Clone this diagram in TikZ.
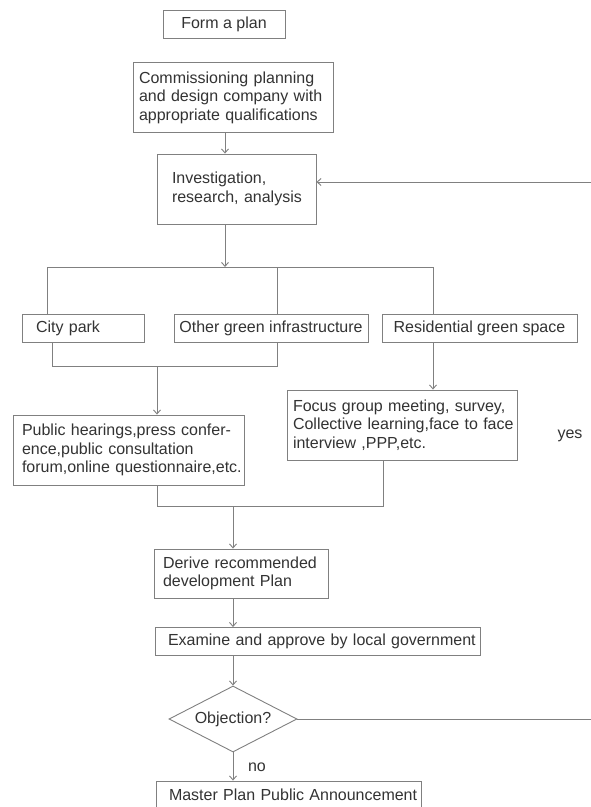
\documentclass[tikz,border=0pt]{standalone}
\usepackage{fontspec}
\setmainfont{Liberation Sans}
\usetikzlibrary{arrows.meta,shapes.geometric}
\definecolor{linegray}{HTML}{808080}
\definecolor{textgray}{HTML}{333333}
\tikzset{
  box/.style={draw=linegray, line width=0.9pt, text=textgray, font=\fontsize{16}{18.5}\selectfont, inner ysep=0pt},
  lbox/.style n args={3}{box, minimum width=#1, minimum height=#2, inner xsep=#3, text width=#1-2*#3, align=left},
  cbox/.style n args={2}{box, minimum width=#1, minimum height=#2, align=center},
  dec/.style={draw=linegray, line width=0.9pt, diamond, aspect=1.94, minimum width=128pt, minimum height=66pt, inner sep=0pt, text=textgray, font=\fontsize{16}{18.5}\selectfont},
  lbl/.style={text=textgray, font=\fontsize{16}{18.5}\selectfont, inner sep=0pt},
  conn/.style={draw=linegray, line width=0.9pt},
  arr/.style={conn, -{Straight Barb[length=4pt,width=7pt]}}
}
\begin{document}
\begin{tikzpicture}[x=1pt, y=-1pt]
\useasboundingbox (0,0) rectangle (591,807);
\clip (0,0) rectangle (591,807);
\fill[white] (0,0) rectangle (591,807);

\node[cbox={122pt}{28pt}] (form) at (224,24) {Form a plan};
\node[lbox={200pt}{70pt}{6pt}] (comm) at (233,97.5) {\mbox{Commissioning planning}\\\mbox{and design company with}\\\mbox{appropriate qualifications}};
\node[lbox={159pt}{70pt}{15pt}] (inv) at (236.5,189) {\mbox{Investigation,}\\\mbox{research, analysis}};

\node[lbox={122pt}{28pt}{14pt}] (city) at (83,328) {City park};
\node[cbox={194pt}{28pt}] (other) at (271,328) {Other green infrastructure};
\node[cbox={195pt}{28pt}] (resid) at (479.5,328) {Residential green space};

\node[lbox={231pt}{70pt}{9pt}] (pub) at (128.5,450) {\mbox{Public hearings,press confer-}\\\mbox{ence,public consultation}\\\mbox{forum,online questionnaire,etc.}};
\node[lbox={230pt}{70pt}{6pt}] (focus) at (402,425) {\mbox{Focus group meeting, survey,}\\\mbox{Collective learning,face to face}\\\mbox{interview ,PPP,etc.}};

\node[lbox={174pt}{49pt}{9pt}] (derive) at (241,573.5) {\mbox{Derive recommended}\\\mbox{development Plan}};
\node[lbox={325pt}{28pt}{13pt}] (exam) at (317.5,641.5) {\mbox{Examine and approve by local government}};
\node[dec] (obj) at (233,719) {Objection?};
\node[lbox={265pt}{28pt}{13pt}] (master) at (288.5,795) {\mbox{Master Plan Public Announcement}};

\node[lbl] (yes) at (570,436) {yes};
\node[lbl] (no) at (257,767) {no};

% helper coordinates
\coordinate (xa) at (225,0);
\coordinate (xb) at (233,0);
\coordinate (split) at (0,267);
\coordinate (join1) at (0,366);
\coordinate (join2) at (0,506);
\coordinate (xcl) at (47,0);
\coordinate (xcb) at (52,0);
\coordinate (xo) at (277,0);
\coordinate (xr) at (433,0);
\coordinate (xp) at (157,0);
\coordinate (xf) at (383,0);
\coordinate (rin) at (591,182);
\coordinate (rout) at (591,719);

% connectors
\draw[arr] (xa |- comm.south) -- (xa |- inv.north);
\draw[arr] (rin) -- (rin -| inv.east);
\draw[arr] (xa |- inv.south) -- (xa |- split);
\draw[conn] (xcl |- city.north) -- (xcl |- split) -- (xr |- split) -- (xr |- resid.north);
\draw[conn] (xo |- split) -- (xo |- other.north);
\draw[conn] (xcb |- city.south) -- (xcb |- join1) -- (xo |- join1) -- (xo |- other.south);
\draw[arr] (xp |- join1) -- (xp |- pub.north);
\draw[arr] (xr |- resid.south) -- (xr |- focus.north);
\draw[conn] (xp |- pub.south) -- (xp |- join2) -- (xf |- join2) -- (xf |- focus.south);
\draw[arr] (xb |- join2) -- (xb |- derive.north);
\draw[arr] (xb |- derive.south) -- (xb |- exam.north);
\draw[arr] (xb |- exam.south) -- (obj.north);
\draw[arr] (obj.south) -- (obj.south |- master.north);
\draw[conn] (obj.east) -- (rout);
\end{tikzpicture}
\end{document}
